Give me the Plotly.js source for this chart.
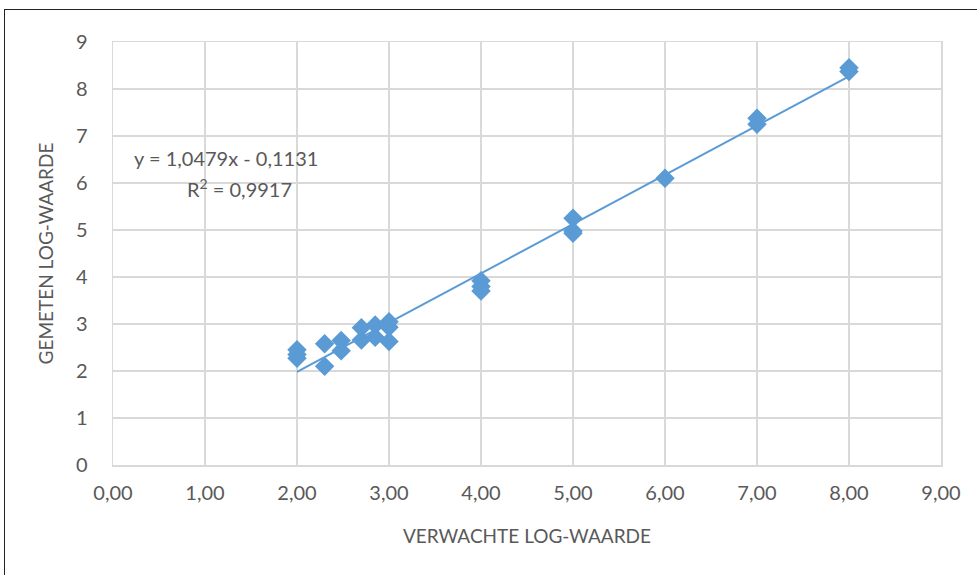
<!DOCTYPE html>
<html><head><meta charset="utf-8">
<script src="https://cdn.plot.ly/plotly-3.0.1.min.js"></script>
<style>
html,body{margin:0;padding:0;background:#fff;}
#wrap{position:relative;width:977px;height:575px;overflow:hidden;}
#frame{position:absolute;left:4px;top:9px;width:990px;height:600px;border-left:1.5px solid #222;border-top:1.5px solid #222;box-sizing:border-box;pointer-events:none;}
#chart{position:absolute;left:0;top:0;width:977px;height:575px;}
</style></head>
<body><div id="wrap"><div id="chart"></div><div id="frame"></div></div>
<script>
const expectedX = [2.00,2.00,2.00,2.30,2.30,2.48,2.48,2.70,2.70,2.85,2.85,3.00,3.00,3.00,4.00,4.00,4.00,5.00,5.00,5.00,6.00,7.00,7.00,8.00,8.00];
const measuredY = [2.45,2.35,2.27,2.58,2.10,2.65,2.43,2.92,2.66,2.98,2.72,3.05,2.93,2.63,3.92,3.80,3.70,5.25,4.98,4.93,6.10,7.38,7.25,8.45,8.37];
const slope = 1.0479, intercept = -0.1131, r2 = 0.9917;
const trendX = [2.0, 8.0];
const trendY = trendX.map(x => slope*x + intercept);
const col = '#5B9BD5';
const fontFam = 'Lato, "Open Sans", sans-serif';
const txt = '#595959';
const traces = [
 {x: expectedX, y: measuredY, type:'scatter', mode:'markers',
  marker:{symbol:'diamond', size:15, color:col}, hoverinfo:'x+y'},
 {x: trendX, y: trendY, type:'scatter', mode:'lines', line:{color:col, width:2}, hoverinfo:'skip'}
];
const layout = {
 width:977, height:575, showlegend:false,
 margin:{l:113, r:36, t:42, b:110},
 paper_bgcolor:'#fff', plot_bgcolor:'#fff',
 separators:',.',
 font:{family:fontFam, size:20, color:txt},
 xaxis:{range:[0,9], dtick:1, tick0:0, tickformat:'.2f', showgrid:true, gridcolor:'#d9d9d9', gridwidth:1.5,
   zeroline:false, showline:true, linecolor:'#d9d9d9', linewidth:1.5, mirror:true, ticks:'', ticklabelstandoff:9,
   tickfont:{size:20, color:txt},
   title:{text:'VERWACHTE LOG-WAARDE', font:{size:19, color:txt}, standoff:27}, fixedrange:true},
 yaxis:{range:[0,9], dtick:1, tick0:0, showgrid:true, gridcolor:'#d9d9d9', gridwidth:1.5,
   zeroline:false, showline:true, linecolor:'#d9d9d9', linewidth:1.5, mirror:true, ticks:'', ticklabelstandoff:20,
   tickfont:{size:20, color:txt},
   title:{text:'GEMETEN LOG-WAARDE', font:{size:19, color:txt}, standoff:17}, fixedrange:true},
 annotations:[
  {xref:'x', yref:'y', x:1.23, y:6.53, text:'y = 1,0479x - 0,1131', showarrow:false, font:{size:20, color:txt}, xanchor:'center', yanchor:'middle'},
  {xref:'x', yref:'y', x:1.38, y:5.89, text:'R<sup>2</sup> = 0,9917', showarrow:false, font:{size:20, color:txt}, xanchor:'center', yanchor:'middle'}
 ]
};
Plotly.newPlot('chart', traces, layout, {displayModeBar:false, staticPlot:true});
</script></body></html>
